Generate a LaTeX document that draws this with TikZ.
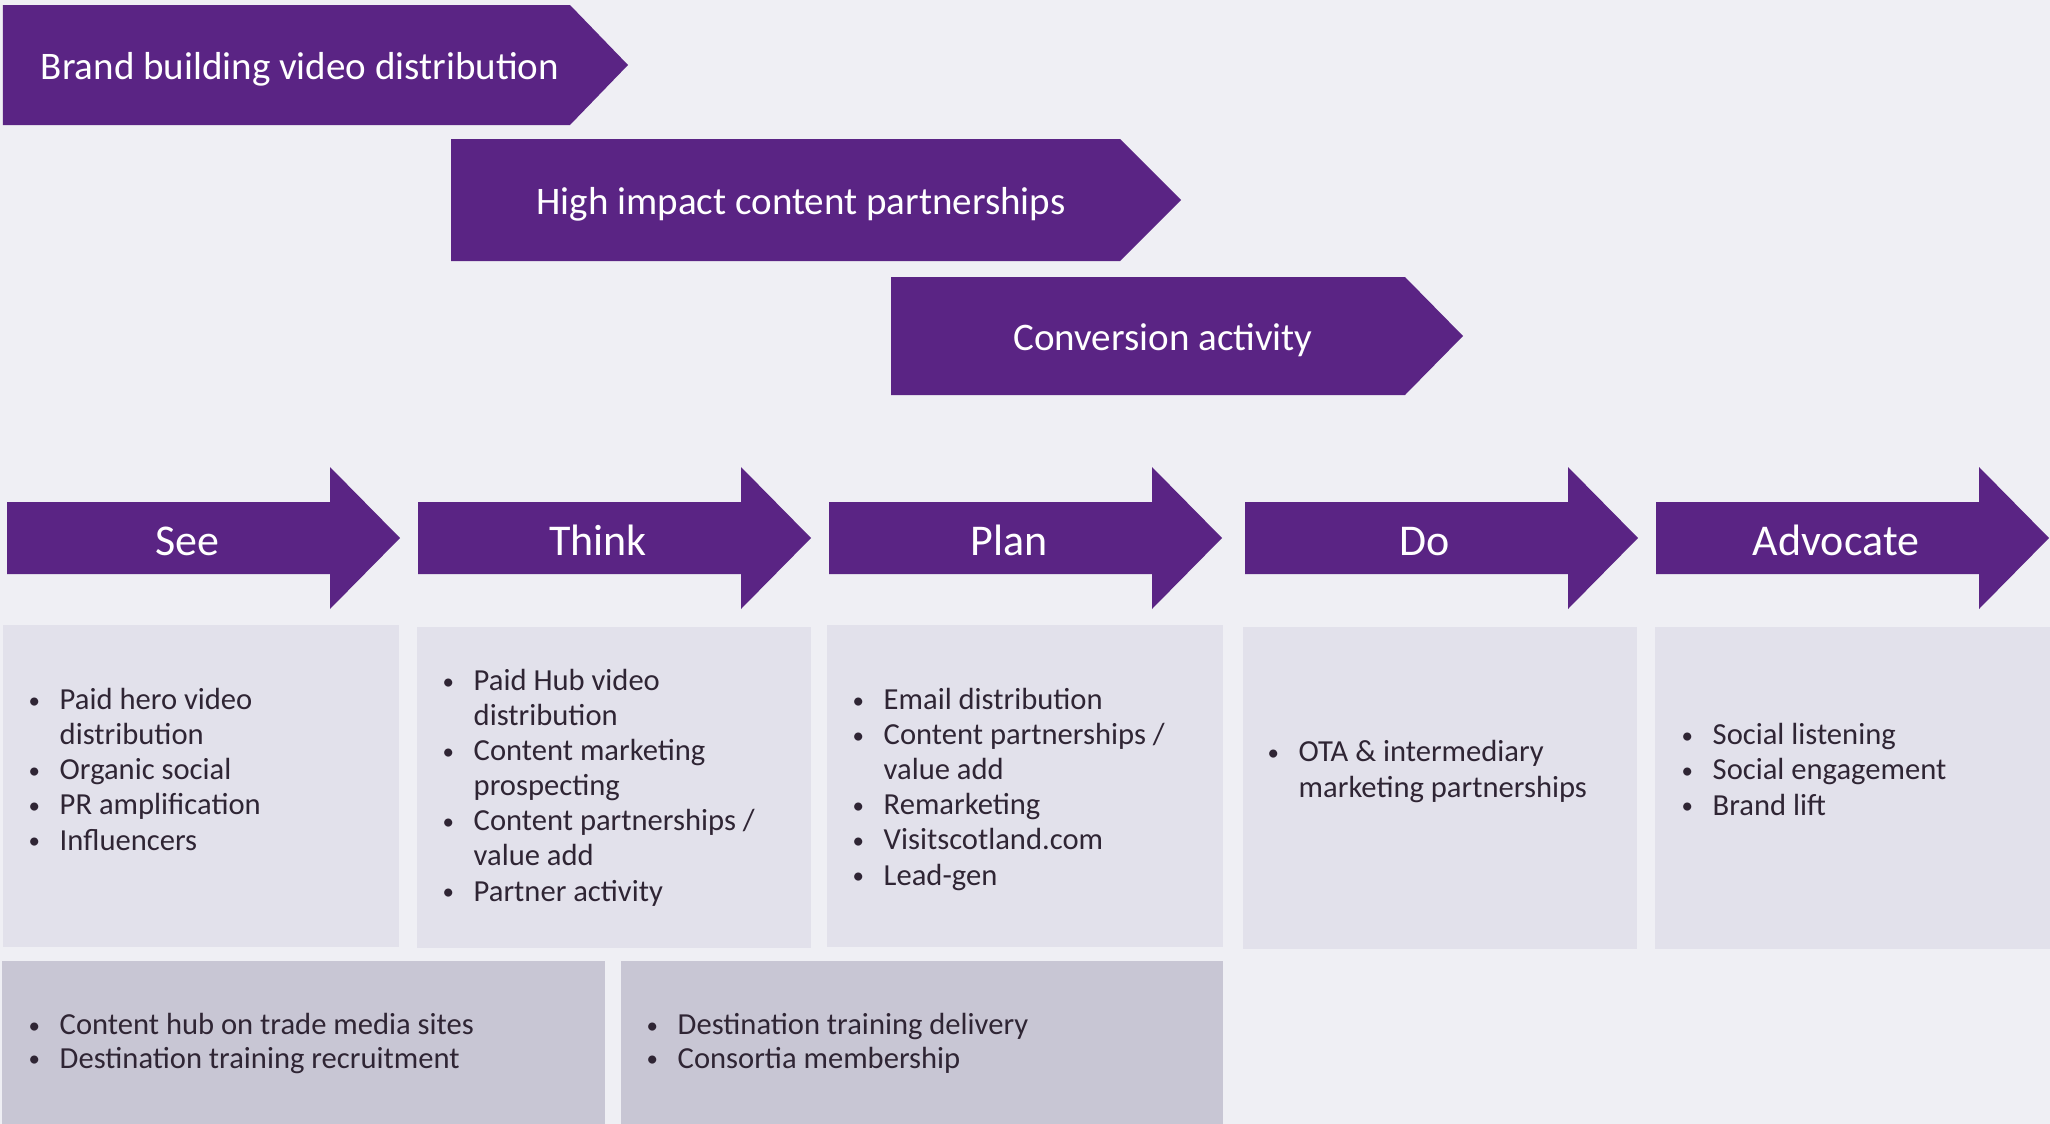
\documentclass[tikz,border=0pt]{standalone}
\usepackage{fontspec}
\setmainfont{Carlito}
\definecolor{vsPurple}{RGB}{90,36,132}
\definecolor{vsBack}{RGB}{239,239,244}
\definecolor{vsLight}{RGB}{226,225,235}
\definecolor{vsDark}{RGB}{200,198,212}
\definecolor{vsText}{RGB}{47,37,52}
\newcommand{\itm}{\makebox[0.31cm][l]{\raisebox{0.12ex}{\scalebox{0.75}{\textbullet}}}}
\newcommand{\cnt}{\hspace*{0.31cm}}

\begin{document}
\begin{tikzpicture}[x=0.01cm,y=-0.01cm,
    banner/.style={fill=vsPurple},
    bannertext/.style={anchor=base,text=white,inner sep=0pt,font=\fontsize{11.1}{13}\selectfont},
    stagetext/.style={anchor=base,text=white,inner sep=0pt,font=\fontsize{12.5}{15}\selectfont},
    panel/.style={fill=vsLight},
    lowpanel/.style={fill=vsDark},
    list/.style={anchor=base west,align=left,inner sep=0pt,text=vsText,font=\fontsize{8.7}{9.96}\selectfont},
    lowlist/.style={list,font=\fontsize{8.7}{9.4}\selectfont}]
  \fill[vsBack] (0,0) rectangle (2050,1124);
  % phase banners
  \fill[banner] (3,5) -- (570,5) -- (628,65) -- (570,125) -- (3,125) -- cycle;
  \node[bannertext] (brand) at (300,79) {Brand building video distribution};
  \fill[banner] (451,139) -- (1120,139) -- (1181,200) -- (1120,261) -- (451,261) -- cycle;
  \node[bannertext] (impact) at (801,214) {High impact content partnerships};
  \fill[banner] (891,277) -- (1405,277) -- (1463,336) -- (1405,395) -- (891,395) -- cycle;
  \node[bannertext] (convert) at (1163,350) {Conversion activity};
  % stage arrows
  \foreach \x/\name/\lbl in {7/see/See,418/think/Think,829/plan/Plan,1245/do/Do,1656/advocate/Advocate}{
    \fill[banner] (\x,502) -- ++(323,0) -- ++(0,-35) -- ++(70,71) -- ++(-70,71)
      -- ++(0,-35) -- ++(-323,0) -- cycle;
    \node[stagetext] (\name) at (\x+180,555) {\lbl};
  }
  % panels
  \fill[panel] (3,625) rectangle (399,947);
  \fill[panel] (417,627) rectangle (811,948);
  \fill[panel] (827,625) rectangle (1223,947);
  \fill[panel] (1243,627) rectangle (1637,949);
  \fill[panel] (1655,627) rectangle (2050,949);
  \fill[lowpanel] (2,961) rectangle (605,1124);
  \fill[lowpanel] (621,961) rectangle (1223,1124);
  % lists (placed by the baseline of their last line)
  \node[list] (seelist) at (28,850) {\itm Paid hero video\\\cnt distribution\\\itm Organic social\\
    \itm PR amplification\\\itm Influencers};
  \node[list] (thinklist) at (442,901) {\itm Paid Hub video\\\cnt distribution\\\itm Content marketing\\
    \cnt prospecting\\\itm Content partnerships /\\\cnt value add\\\itm Partner activity};
  \node[list] (planlist) at (852,885) {\itm Email distribution\\\itm Content partnerships /\\\cnt value add\\
    \itm Remarketing\\\itm Visitscotland.com\\\itm Lead-gen};
  \node[list] (dolist) at (1267,797) {\itm OTA \& intermediary\\\cnt marketing partnerships};
  \node[list] (advlist) at (1681,815) {\itm Social listening\\\itm Social engagement\\\itm Brand lift};
  \node[lowlist] (tradelist) at (28,1068) {\itm Content hub on trade media sites\\\itm Destination training recruitment};
  \node[lowlist] (traininglist) at (646,1068) {\itm Destination training delivery\\\itm Consortia membership};
\end{tikzpicture}
\end{document}
